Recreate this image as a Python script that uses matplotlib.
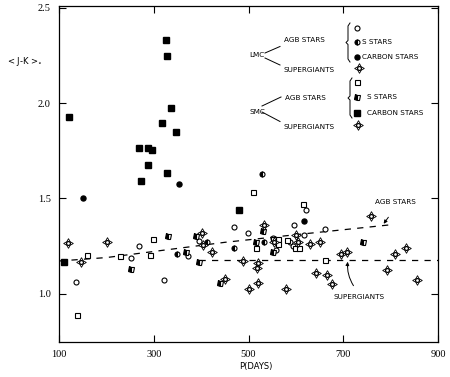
import numpy as np
import matplotlib
matplotlib.use("Agg")
from matplotlib import pyplot as plt

# LMC AGB stars
lmc_m_p = [136, 253, 269, 321, 373, 396, 470, 499, 552, 559, 587, 593, 596, 617, 622, 661]
lmc_m_jk = [1.06, 1.19, 1.25, 1.07, 1.196, 1.279, 1.35, 1.32, 1.293, 1.23, 1.27, 1.25, 1.36, 1.31, 1.44, 1.34]
lmc_s_p = [350, 413, 470, 528, 533]
lmc_s_jk = [1.21, 1.274, 1.24, 1.63, 1.27]
lmc_c_p = [151, 353, 617]
lmc_c_jk = [1.50, 1.575, 1.38]

# SMC AGB stars
smc_m_p = [139, 160, 229, 292, 299, 510, 614, 516, 563, 552, 563, 582, 598, 606, 661]
smc_m_jk = [0.89, 1.204, 1.20, 1.205, 1.29, 1.535, 1.47, 1.24, 1.29, 1.29, 1.26, 1.28, 1.24, 1.24, 1.177]
smc_s_p = [253, 331, 368, 390, 396, 440, 516, 531, 551, 742]
smc_s_jk = [1.13, 1.305, 1.22, 1.305, 1.165, 1.054, 1.27, 1.33, 1.22, 1.27]
smc_c_p = [111, 121, 268, 274, 288, 288, 297, 317, 325, 327, 328, 336, 347, 480]
smc_c_jk = [1.168, 1.926, 1.765, 1.593, 1.765, 1.675, 1.756, 1.895, 2.33, 2.25, 1.635, 1.975, 1.85, 1.442]

# supergiants (both clouds)
sg_p = [120, 146, 201, 401, 403, 423, 450, 489, 501, 517, 520, 520, 532, 554, 580, 600,
        605, 630, 651, 642, 665, 677, 696, 707, 758, 793, 809, 833, 855]
sg_jk = [1.265, 1.165, 1.27, 1.32, 1.256, 1.22, 1.08, 1.174, 1.025, 1.135, 1.16, 1.056, 1.36,
         1.27, 1.025, 1.31, 1.27, 1.26, 1.27, 1.11, 1.10, 1.05, 1.21, 1.22, 1.407, 1.126,
         1.21, 1.24, 1.074]

# mean relations
agb_fit_p = [100, 200, 300, 450, 600, 800]
agb_fit_jk = [1.172, 1.19, 1.222, 1.27, 1.31, 1.362]
sg_fit_p = [395, 900]
sg_fit_jk = [1.178, 1.178]

W, H = 450, 377
fig = plt.figure(figsize=(W / 100, H / 100), dpi=100)
ax = fig.add_axes([59 / W, 1 - 342 / H, 379 / W, 336 / H])

def px(x, y):
    return x / W, 1 - y / H

ms = 3.6
def open_circle(a, x, y, tr=None):
    kw = dict(transform=tr, clip_on=False) if tr else {}
    a.plot(x, y, 'o', ms=ms, mfc='white', mec='black', mew=0.8, ls='none', **kw)

def half_circle(a, x, y, tr=None):
    kw = dict(transform=tr, clip_on=False) if tr else {}
    a.plot(x, y, 'o', ms=ms, fillstyle='left', mfc='black', mfcalt='white', mec='black',
           mew=0.8, ls='none', **kw)

def fill_circle(a, x, y, tr=None):
    kw = dict(transform=tr, clip_on=False) if tr else {}
    a.plot(x, y, 'o', ms=ms, mfc='black', mec='black', ls='none', **kw)

def open_square(a, x, y, tr=None):
    kw = dict(transform=tr, clip_on=False) if tr else {}
    a.plot(x, y, 's', ms=ms, mfc='white', mec='black', mew=0.8, ls='none', **kw)

def half_square(a, x, y, tr=None):
    kw = dict(transform=tr, clip_on=False) if tr else {}
    a.plot(x, y, 's', ms=ms, fillstyle='left', mfc='black', mfcalt='white', mec='black',
           mew=0.8, ls='none', **kw)

def fill_square(a, x, y, tr=None):
    kw = dict(transform=tr, clip_on=False) if tr else {}
    a.plot(x, y, 's', ms=4.2, mfc='black', mec='black', ls='none', **kw)

def star(a, x, y, tr=None):
    kw = dict(transform=tr, clip_on=False) if tr else {}
    a.plot(x, y, marker=(4, 1, 0), ms=7, mfc='white', mec='black', mew=0.6, ls='none', **kw)
    a.plot(x, y, 'o', ms=2.8, mfc='white', mec='black', mew=0.9, ls='none', **kw)

ax.plot(agb_fit_p, agb_fit_jk, color='black', lw=0.9, ls=(0, (5, 5)))
ax.plot(sg_fit_p, sg_fit_jk, color='black', lw=0.9, ls=(0, (5, 5)))

open_circle(ax, lmc_m_p, lmc_m_jk)
half_circle(ax, lmc_s_p, lmc_s_jk)
fill_circle(ax, lmc_c_p, lmc_c_jk)
open_square(ax, smc_m_p, smc_m_jk)
half_square(ax, smc_s_p, smc_s_jk)
fill_square(ax, smc_c_p, smc_c_jk)
star(ax, sg_p, sg_jk)

ax.set_xlim(100, 900)
ax.set_ylim(0.747, 2.51)
ax.set_xticks([100, 300, 500, 700, 900])
ax.set_yticks([1.0, 1.5, 2.0, 2.5])
ax.set_yticklabels(['1.0', '1.5', '2.0', '2.5'])
ax.tick_params(direction='in', length=5, width=0.8, top=True, right=True,
               labelsize=7.5, pad=6)
for lab in ax.get_xticklabels() + ax.get_yticklabels():
    lab.set_family('Liberation Serif')
for s in ax.spines.values():
    s.set_linewidth(0.9)

sc = dict(family='DejaVu Sans', fontsize=5.2, va='center', ha='left')
fig.text(*px(7, 62), r'< J-K >$_{\circ}$', fontsize=6, family='DejaVu Sans', va='center')
fig.text(*px(256, 367), 'P(DAYS)', fontsize=6, family='DejaVu Sans', va='center', ha='center')

tf = fig.transFigure
def line(pts, **kw):
    xs = [px(*p)[0] for p in pts]
    ys = [px(*p)[1] for p in pts]
    fig.add_artist(plt.Line2D(xs, ys, color='black', lw=0.7, **kw))

def brace(x, top, bot):
    mid = (top + bot) / 2
    line([(x + 2, top), (x, top + 3), (x, mid - 2), (x - 2, mid), (x, mid + 2),
          (x, bot - 3), (x + 2, bot)])

# LMC legend
fig.text(*px(249, 55), 'LMC', **sc)
fig.text(*px(284, 40), 'AGB STARS', **sc)
fig.text(*px(284, 70), 'SUPERGIANTS', **sc)
line([(265, 53), (280, 46.5)])
line([(265, 58), (280, 65)])
brace(348, 23, 62)
open_circle(ax, [px(357, 28)[0]], [px(357, 28)[1]], tf)
half_circle(ax, [px(357, 42)[0]], [px(357, 42)[1]], tf)
fill_circle(ax, [px(357, 57)[0]], [px(357, 57)[1]], tf)
star(ax, [px(359, 68)[0]], [px(359, 68)[1]], tf)
fig.text(*px(362, 42), 'S STARS', **sc)
fig.text(*px(362, 57), 'CARBON STARS', **sc)

# SMC legend
fig.text(*px(249, 112), 'SMC', **sc)
fig.text(*px(285, 98), 'AGB STARS', **sc)
fig.text(*px(284, 127), 'SUPERGIANTS', **sc)
line([(262, 106), (281, 97)])
line([(262, 112), (280, 121.5)])
brace(350, 78, 118)
open_square(ax, [px(357, 82)[0]], [px(357, 82)[1]], tf)
half_square(ax, [px(357, 97)[0]], [px(357, 97)[1]], tf)
fill_square(ax, [px(357, 113)[0]], [px(357, 113)[1]], tf)
star(ax, [px(358, 125)[0]], [px(358, 125)[1]], tf)
fig.text(*px(367, 97), 'S STARS', **sc)
fig.text(*px(367, 113), 'CARBON STARS', **sc)

# labels on the relations
fig.text(*px(375, 202), 'AGB STARS', **sc)
ax.annotate('', xy=px(382, 226), xytext=px(390, 215), xycoords='figure fraction',
            textcoords='figure fraction',
            arrowprops=dict(arrowstyle='-|>', lw=0.7, color='black', mutation_scale=5))
fig.text(*px(334, 297), 'SUPERGIANTS', **sc)
ax.annotate('', xy=px(348, 259), xytext=px(355, 288), xycoords='figure fraction',
            textcoords='figure fraction',
            arrowprops=dict(arrowstyle='-|>', lw=0.7, color='black', mutation_scale=5,
                            connectionstyle='arc3,rad=-0.2'))

fig.savefig('out.png', dpi=100)
